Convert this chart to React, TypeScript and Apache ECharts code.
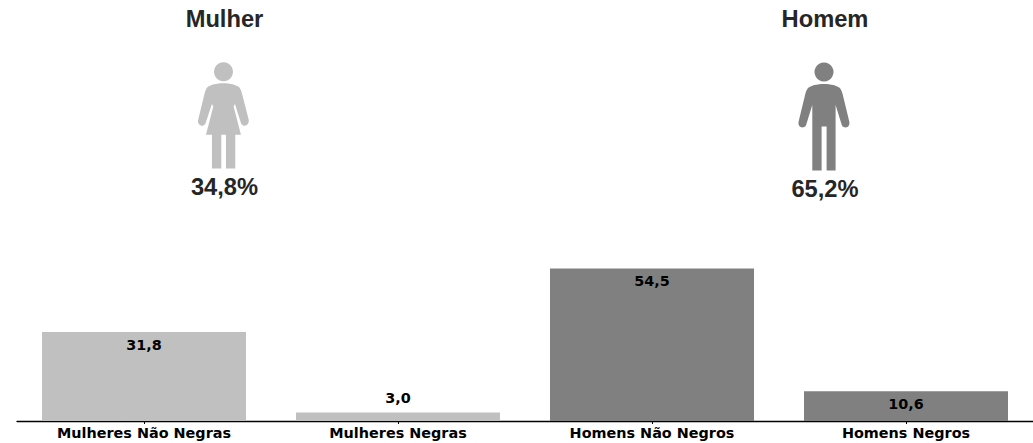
import React, { useEffect, useRef } from "react";
import * as echarts from "echarts";

const categories = ["Mulheres Não Negras", "Mulheres Negras", "Homens Não Negros", "Homens Negros"];
const values = [31.8, 3.0, 54.5, 10.6];
const barColors = ["#c0c0c0", "#c0c0c0", "#808080", "#808080"];
const labelPositions = ["insideTop", "top", "insideTop", "insideTop"];
const genderNames = ["Mulher", "Homem"];
const genderShares = ["34,8%", "65,2%"];

const WOMAN_PATH =
  "M160 250 C180 250 200 255 208 262 C212 268 214 272 216 280 L236 358 C240 372 225 385 214 372 L195 312 L191 320 L213 405 L196 405 L196 506 L168 506 L168 405 L154 405 L154 506 L126 506 L126 405 L108 405 L130 320 L126 312 L106 372 C95 385 80 372 85 358 L104 280 C106 272 108 268 112 262 C120 255 140 250 160 250 Z";
const MAN_PATH =
  "M162 252 C182 252 202 257 210 264 C214 270 216 274 218 282 L238 365 C242 379 227 390 216 377 L197 315 L197 512 L170 512 L170 380 L155 380 L155 512 L127 512 L127 315 L108 377 C97 390 82 379 86 365 L106 282 C108 274 110 270 114 264 C122 257 142 252 162 252 Z";

echarts.graphic.registerShape("womanBody", echarts.graphic.extendPath(WOMAN_PATH, {}));
echarts.graphic.registerShape("manBody", echarts.graphic.extendPath(MAN_PATH, {}));

export default function App() {
  const ref = useRef<HTMLDivElement>(null);
  useEffect(() => {
    document.body.style.margin = "0";
    const chart = echarts.init(ref.current!, undefined, { renderer: "svg" });
    const titleStyle = {
      fontFamily: "Liberation Sans",
      fontWeight: "bold",
      fontSize: 23.7,
      fill: "#262626",
      textAlign: "center",
      textVerticalAlign: "middle",
    };
    chart.setOption({
      animation: false,
      backgroundColor: "#ffffff",
      grid: { left: 17, width: 1018, top: 253, height: 168 },
      xAxis: {
        type: "category",
        data: categories,
        axisLine: { show: true, lineStyle: { color: "#000000", width: 1.3 } },
        axisTick: { show: true, alignWithLabel: true, length: 3, lineStyle: { color: "#000000", width: 1 } },
        axisLabel: {
          interval: 0,
          margin: 5,
          fontFamily: "DejaVu Sans",
          fontWeight: "bold",
          fontSize: 14.4,
          color: "#000000",
        },
      },
      yAxis: { type: "value", min: 0, max: 60, show: false, splitLine: { show: false } },
      series: [
        {
          type: "bar",
          barWidth: 204,
          data: values.map((v, i) => ({
            value: v,
            itemStyle: { color: barColors[i] },
            label: {
              show: true,
              position: labelPositions[i],
              distance: labelPositions[i] === "top" ? 8 : 6,
              formatter: v.toFixed(1).replace(".", ","),
              fontFamily: "DejaVu Sans",
              fontWeight: "bold",
              fontSize: 14.4,
              color: "#000000",
            },
          })),
        },
      ],
      graphic: [
        { type: "text", x: 224.5, y: 19, style: { ...titleStyle, text: genderNames[0] } },
        { type: "text", x: 825, y: 19, style: { ...titleStyle, text: genderNames[1] } },
        { type: "text", x: 224.5, y: 187, style: { ...titleStyle, text: genderShares[0] } },
        { type: "text", x: 825, y: 189, style: { ...titleStyle, text: genderShares[1] } },
        { type: "circle", shape: { cx: 223.5, cy: 71.7, r: 9.5 }, style: { fill: "#c0c0c0" } },
        { type: "circle", shape: { cx: 824, cy: 72, r: 9.5 }, style: { fill: "#808080" } },
        { type: "womanBody", x: 170, y: 0, scaleX: 1 / 3, scaleY: 1 / 3, style: { fill: "#c0c0c0" } },
        { type: "manBody", x: 770, y: 0, scaleX: 1 / 3, scaleY: 1 / 3, style: { fill: "#808080" } },
      ],
    });
    return () => chart.dispose();
  }, []);
  return <div ref={ref} style={{ position: "absolute", left: 0, top: 0, width: 1033, height: 443 }} />;
}
